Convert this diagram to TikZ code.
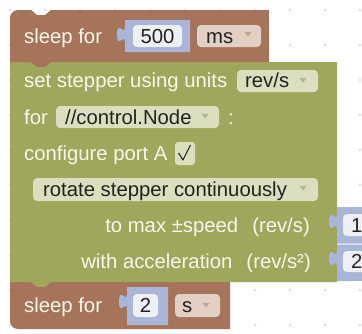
\documentclass[tikz,border=0pt]{standalone}
\usepackage{fontspec}
\setmainfont{Liberation Sans}
\definecolor{brn}{HTML}{A6745A}
\definecolor{grn}{HTML}{A0A65C}
\definecolor{blu}{HTML}{A9B5D9}
\definecolor{fldW}{HTML}{EEF0F6}
\definecolor{ddB}{HTML}{E3D0C4}
\definecolor{ddG}{HTML}{DCDEC0}
\definecolor{arB}{HTML}{C4A594}
\definecolor{arG}{HTML}{B4B69C}
\definecolor{lblc}{HTML}{F7F7EC}
\definecolor{ftx}{HTML}{222222}
\definecolor{dotc}{HTML}{D2D2D2}
\newcommand\valblock[5]{%
  \fill[blu] (#1,#3) -- (#2,#3) -- (#2,#4) -- (#1,#4) -- (#1,{#5+15})
    .. controls (#1,{#5+5}) and ({#1-8},{#5+23}) .. ({#1-8},{#5+7.5})
    .. controls ({#1-8},{#5-8}) and (#1,{#5+10}) .. (#1,#5) -- cycle;}
\tikzset{
  lbl/.style={text=lblc, font=\fontsize{20.3}{24}\selectfont, inner sep=0pt, anchor=base west},
  ftext/.style={text=ftx, font=\fontsize{20.3}{24}\selectfont, inner sep=0pt, anchor=base west},
  ddarrow/.pic={\fill[pic actions] (-3.8,-2.2) -- (3.8,-2.2) -- (0,2.6) -- cycle;},
  fbox/.style={rounded corners=4pt}
}
\begin{document}
\begin{tikzpicture}[x=1pt,y=-1pt]
\useasboundingbox (0,0) rectangle (362,333);
\clip (0,0) rectangle (362,333);
\fill[white] (0,0) rectangle (362,333);
% grid dots
\foreach \i in {0,...,10}{\foreach \j in {0,...,9}{\fill[dotc] ({10+35*\i},{10+35*\j}) circle (1.1);}}
% bottom sleep block
\fill[brn] (10,282) -- (230,282) -- (230,329) -- (18,329) .. controls (13.6,329) and (10,325.4) .. (10,321) -- cycle;
% green block
\fill[grn] (10,62) -- (337,62) -- (337,282) -- (51,282) -- (45,287) -- (37,287) -- (31,282) -- (10,282) -- cycle;
% top sleep block
\fill[brn] (10,62) -- (10,18) .. controls (10,13.6) and (13.6,10) .. (18,10) -- (31,10) -- (37,15) -- (45,15) -- (51,10) -- (269,10) -- (269,62) -- (51,62) -- (45,67) -- (37,67) -- (31,62) -- cycle;
% value blocks
\valblock{125}{190}{20}{52}{27}
\valblock{127}{168}{287}{325}{294}
\valblock{337}{375}{207}{243.5}{214}
\valblock{337}{375}{244.5}{281}{251}
% field boxes
\fill[fldW,fbox] (133,25) rectangle (182,47);
\fill[fldW,fbox] (133,294) rectangle (158,317);
\fill[fldW,fbox] (343,214) rectangle (375,236);
\fill[fldW,fbox] (343,251) rectangle (375,272);
\fill[ddB,fbox] (197,25) rectangle (261,47);
\fill[ddB,fbox] (175,294) rectangle (220,317);
\fill[ddG,fbox] (237,70) rectangle (318,92);
\fill[ddG,fbox] (56,106) rectangle (219,128);
\fill[ddG,fbox] (33,178) rectangle (318,201);
\fill[ddG,rounded corners=3pt] (175,142) rectangle (195,165);
\draw[ftx,line width=1.1pt,line join=round] (178.5,153) -- (183,160) -- (190.5,145);
% dropdown arrows
\pic[fill=arB] at (248,34) {ddarrow};
\pic[fill=arB] at (206,305) {ddarrow};
\pic[fill=arG] at (303,80) {ddarrow};
\pic[fill=arG] at (205,116) {ddarrow};
\pic[fill=arG] at (303,188) {ddarrow};
% texts
\node[lbl] (t1) at (24,43) {sleep for};
\node[ftext,anchor=base] (v500) at (157.5,43) {500};
\node[ftext] (ums) at (206,43) {ms};
\node[lbl] (t2) at (24,87) {set stepper using units};
\node[ftext] (urev) at (245,87) {rev/s};
\node[lbl] (t3) at (24,124) {for};
\node[ftext] (node) at (65,124) {//control.Node};
\node[lbl] (colon) at (228,124) {:};
\node[lbl] (t4) at (24,160) {configure port A};
\node[ftext] (mode) at (43,196) {rotate stepper continuously};
\node[lbl,anchor=base east] (t6) at (310,232) {to max ±speed\hspace{14pt}(rev/s)};
\node[lbl,anchor=base east] (t7) at (311,268) {with acceleration\hspace{14pt}(rev/s²)};
\node[ftext] (v1) at (351,232) {1};
\node[ftext] (v2) at (351,268) {2};
\node[lbl] (t8) at (24,312) {sleep for};
\node[ftext,anchor=base] (v2s) at (145.5,312) {2};
\node[ftext] (us) at (182,312) {s};
\end{tikzpicture}
\end{document}
